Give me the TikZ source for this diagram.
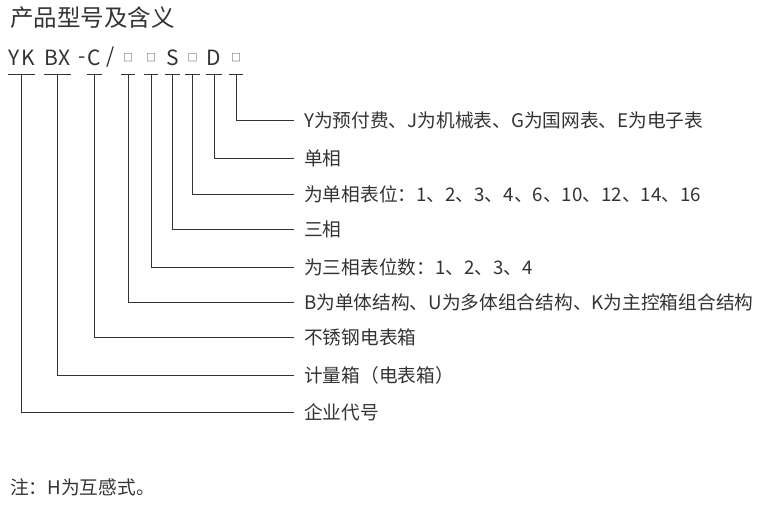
\documentclass[tikz,border=0pt]{standalone}
\usepackage{fontspec}
\setmainfont{Noto Sans CJK SC}
\definecolor{ink}{HTML}{333333}
\begin{document}
\begin{tikzpicture}[x=1pt, y=-1pt,
  title/.style={anchor=west, inner sep=0pt, text=ink, font=\fontsize{23.5}{23.5}\selectfont},
  code/.style={inner sep=0pt, text=ink, font=\fontsize{21}{21}\selectfont},
  box/.style={code, font=\fontsize{10}{10}\selectfont},
  lbl/.style={anchor=west, inner xsep=10pt, inner ysep=0pt, text=ink, font=\fontsize{18.7}{18.7}\selectfont},
  leg/.style={draw=ink, line width=0.9pt}]
  \useasboundingbox (0,0) rectangle (768,506);

  % Title
  \node[title] (head) at (10,18) {产品型号及含义};

  % Model code
  \node[code, minimum width=27pt] (yk) at (21.5,57.5) {Y\hspace{2pt}K};
  \node[code, minimum width=25pt] (bx) at (57.5,57.5) {B\hspace{1pt}X};
  \node[code] (dash) at (82,60) {-};
  \node[code, minimum width=15pt] (c) at (94.5,57.5) {C};
  \node[code] (slash) at (111,57.5) {/};
  \node[box, minimum width=14pt] (n1) at (128,57.5) {□};
  \node[box, minimum width=14pt] (n2) at (151,57.5) {□};
  \node[code, minimum width=15pt] (s) at (172.5,57.5) {S};
  \node[box, minimum width=15pt] (n3) at (192.5,57.5) {□};
  \node[code, minimum width=16pt] (d) at (214,57.5) {D};
  \node[box, minimum width=14pt] (n4) at (236,57.5) {□};

  % Bars under the code
  \coordinate (bar) at (0,74);
  \foreach \n in {yk,bx,c,n1,n2,s,n3,d,n4}
    \draw[leg] (\n.west |- bar) -- (\n.east |- bar);

  % Meanings
  \node[lbl] (l1) at (294,120) {Y为预付费、J为机械表、G为国网表、E为电子表};
  \node[lbl] (l2) at (294,158) {单相};
  \node[lbl] (l3) at (294,194) {为单相表位：1、2、3、4、6、10、12、14、16};
  \node[lbl] (l4) at (294,229) {三相};
  \node[lbl] (l5) at (294,267) {为三相表位数：1、2、3、4};
  \node[lbl] (l6) at (294,302) {B为单体结构、U为多体组合结构、K为主控箱组合结构};
  \node[lbl] (l7) at (294,337) {不锈钢电表箱};
  \node[lbl] (l8) at (294,375) {计量箱（电表箱）};
  \node[lbl] (l9) at (294,412) {企业代号};

  % Legs
  \foreach \a/\b in {n4/l1, d/l2, n3/l3, s/l4, n2/l5, n1/l6, c/l7, bx/l8, yk/l9}
    \draw[leg] (\a.center |- bar) |- (\b.west);

  % Note
  \node[title, font=\fontsize{18.7}{18.7}\selectfont] (note) at (10,487) {注：H为互感式。};
\end{tikzpicture}
\end{document}
